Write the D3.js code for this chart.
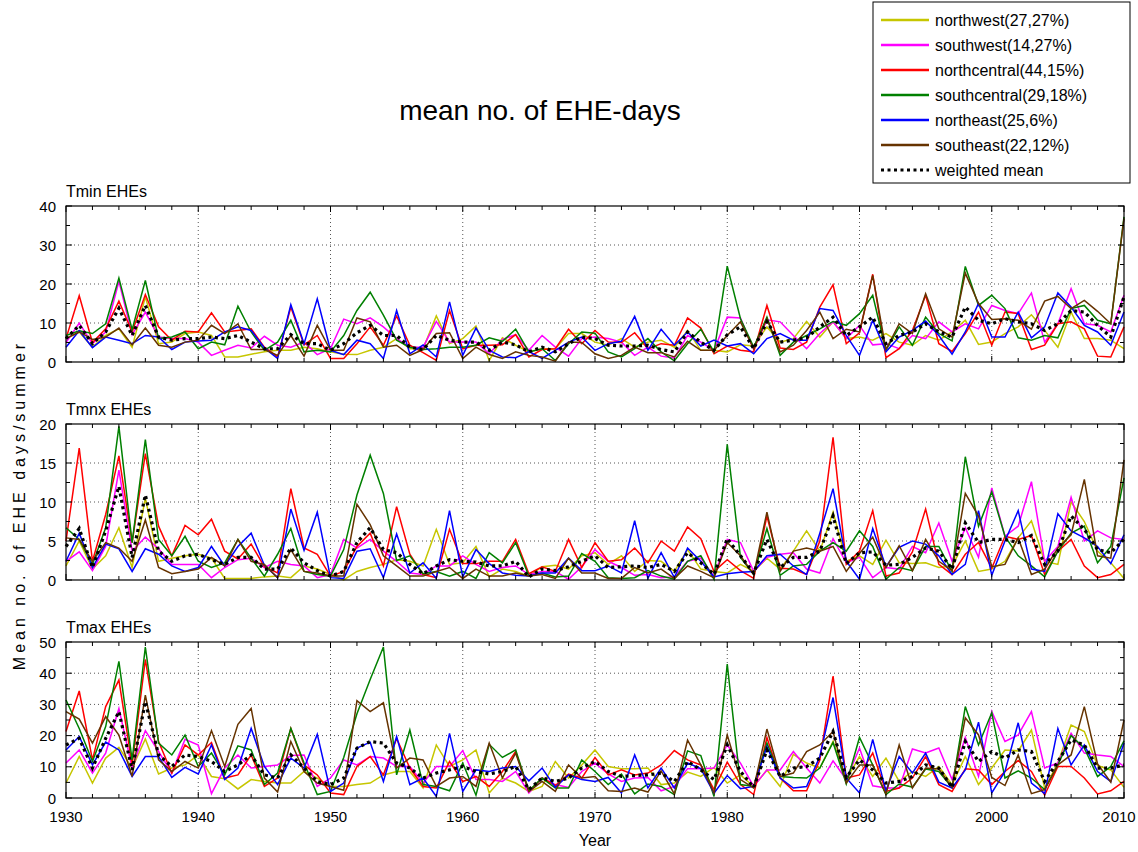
<!DOCTYPE html>
<html lang="en">
<head>
<meta charset="UTF-8">
<title>mean no. of EHE-days</title>
<script src="https://d3js.org/d3.v7.min.js"></script>
<style>
  body { margin: 0; background: #fff; }
  svg { display: block; font-family: "Liberation Sans", Arial, Helvetica, sans-serif; }
  .grid line { stroke: #555; stroke-dasharray: 1,3; }
</style>
</head>
<body>
<div id="chart"></div>
<script>
// ---- data (one value per summer, 1930-2010) ----
const years = d3.range(1930, 2011);

const seriesNames = ["northwest(27,27%)", "southwest(14,27%)", "northcentral(44,15%)",
  "southcentral(29,18%)", "northeast(25,6%)", "southeast(22,12%)", "weighted mean"];
const seriesColors = ["#c6c600", "#ff00ff", "#ff0000", "#008000", "#0000ff", "#663300", "#000"];

const panelTitles = ["Tmin EHEs", "Tmnx EHEs", "Tmax EHEs"];
const panelMax = [40, 20, 50];
const panelTicks = [[0, 10, 20, 30, 40], [0, 5, 10, 15, 20], [0, 10, 20, 30, 40, 50]];
const panelMinorStep = [5, 2.5, 5];
const xTicks = [1930, 1940, 1950, 1960, 1970, 1980, 1990, 2000, 2010];

// Tmin
const tminNW = [6, 7.7, 3.8, 6.8, 8.5, 3.8, 16.7, 4.7, 5.1, 7.3,
  7.7, 6.8, 1.3, 1.3, 2, 2.6, 3, 3, 3.8, 3.4,
  2.6, 2, 1.9, 3, 3.8, 6, 3.4, 3.4, 11.8, 4.7,
  6, 9.2, 0.4, 6.2, 4.3, 2.6, 3.4, 3.4, 7.3, 7.3,
  5.1, 4.3, 6, 3.8, 5.1, 5.6, 3.8, 8.1, 3, 3,
  2.6, 4.4, 4.1, 9, 5.1, 6, 10.4, 6.4, 10.3, 6,
  6.4, 5.6, 7.3, 5.1, 4.3, 6.8, 5.6, 7.7, 10.7, 4.5,
  5.1, 7.3, 9, 12.1, 8.1, 3.8, 12.8, 6, 6, 5.6, 3.4];
const tminSW = [5, 10, 4.7, 7.7, 20.7, 7, 12.8, 6.4, 6, 6,
  5.1, 1.7, 3, 4.3, 3.6, 6.6, 4.3, 3.8, 5.1, 1.9,
  3.4, 11, 9.8, 11.3, 9, 6, 3.8, 3.8, 10.4, 5.1,
  5.1, 5.1, 2.1, 5.8, 7, 3, 6.8, 3.8, 1.5, 6,
  6.4, 6, 5.1, 1.7, 3.8, 1.5, 1, 6.8, 5.1, 3,
  11.5, 11.3, 3.2, 10.8, 10.3, 6.8, 3.4, 7.3, 10.3, 6,
  9.4, 4.4, 4.7, 3.4, 6.8, 6, 10.3, 7.7, 9.8, 8.5,
  14.5, 13.2, 12.4, 17.7, 5.1, 9.8, 18.8, 9.8, 9.4, 7.7, 17.1];
const tminNC = [6, 17, 5, 8.5, 15.6, 7.7, 17.3, 9, 5.6, 7.9,
  7.7, 12.6, 7.7, 8.1, 8.5, 3.8, 1.3, 14.1, 4.4, 6.8,
  0.9, 0.9, 4.7, 9, 4.3, 11.8, 4.3, 2.4, 0.4, 13.2,
  3.4, 4.3, 4.3, 4.4, 7, 1.3, 3.2, 3.4, 8.4, 4.7,
  8.1, 5.1, 5, 7.5, 3.4, 4.7, 4.3, 11.3, 8.7, 2.1,
  4.1, 3, 2.6, 14.5, 3.6, 3.2, 5.1, 14.1, 19.8, 4.7,
  7.5, 22.5, 1.1, 3.4, 8.1, 17.1, 4.7, 2.7, 7.3, 12.8,
  4.3, 12.8, 12.4, 3.2, 4.3, 9.8, 10.3, 8.5, 1.5, 1.3, 9];
const tminSC = [6.8, 8, 7.3, 9.8, 21.5, 8.3, 20.9, 6, 6.4, 7.7,
  3.4, 5.1, 4.4, 14.3, 7.7, 3, 5.1, 10.7, 2.6, 3,
  2.6, 6.8, 13.2, 17.9, 12, 5.6, 3.8, 3.2, 3.4, 3.8,
  3.8, 4.3, 6.2, 5.3, 8.4, 2.6, 3.4, 0.4, 4.7, 7.7,
  7.4, 2.6, 1.3, 3.4, 6, 2.6, 0.3, 4.7, 8.4, 2.6,
  24.6, 11.1, 3.8, 11.5, 1.7, 5.1, 6.8, 8.5, 10.4, 9.4,
  12.4, 17.1, 3, 9, 4.3, 11.5, 7.3, 5.4, 24.5, 14.5,
  17.1, 13.7, 6.2, 5.6, 6.8, 6.2, 13.7, 14.5, 10.7, 9.8, 37.2];
const tminNE = [3.8, 8, 3.7, 6.4, 5.6, 4.7, 6.8, 6.4, 3.2, 5.1,
  5.4, 5.6, 7.7, 9, 8.1, 3.6, 0.9, 14.7, 4.7, 16.2,
  3, 1.9, 5.6, 4.7, 0.9, 13.2, 2.1, 4.4, 1.3, 15.4,
  1.7, 8.7, 3, 1.3, 1.1, 2.7, 0.9, 3, 5.1, 6.4,
  3, 4.7, 5.3, 11.7, 3, 8.4, 4.3, 7.7, 4.1, 5.6,
  4.1, 4.7, 2.1, 6, 7.3, 5.6, 5.6, 13.7, 13.2, 6.8,
  1.7, 10.7, 2.6, 6.4, 8.1, 10.5, 6.8, 2, 7.7, 15,
  6.4, 6.4, 12.8, 6.2, 9, 17.7, 14.1, 9.4, 7.7, 4.3, 12.8];
const tminSE = [6, 7.7, 5.8, 6.4, 8.7, 4.4, 8.7, 4.3, 3.8, 5.1,
  5.6, 9.4, 7.3, 9.8, 3.2, 3.2, 1.7, 6.8, 1.5, 9.4,
  3, 3, 11.3, 10.3, 3.8, 4.3, 1.7, 3.2, 7.3, 7.5,
  0.9, 3.8, 1.9, 0.9, 2.6, 1.7, 1.3, 0.2, 5.1, 5,
  2.1, 0.9, 1.7, 3.8, 2.4, 2.4, 1.3, 5.3, 3, 3,
  6.8, 10.3, 3.4, 11.1, 2.6, 4.3, 8.1, 12.8, 6, 8.4,
  7.7, 22.2, 3.2, 9.8, 7.3, 17.5, 8.5, 6.4, 22.8, 15,
  10.9, 11.1, 10.7, 8.4, 15.6, 16.8, 13.7, 15.8, 13, 9.8, 36.8];
const tminMean = [6, 9.4, 4.7, 7.7, 13.8, 6.8, 14.5, 6.4, 5.6, 6,
  6, 6.4, 6, 6.8, 5.1, 3.4, 3.4, 7, 4.7, 4.7,
  3, 4.7, 7.5, 9.4, 6.8, 6.8, 3.8, 3.2, 6.8, 5.6,
  5.1, 5.1, 3, 5.1, 4.4, 2.6, 3.8, 2.6, 4.7, 6.4,
  6, 4.3, 4.1, 4.1, 4.3, 3.2, 2.6, 7.7, 5.1, 3,
  7, 9, 3.4, 10.3, 5.1, 5.6, 6.2, 9, 11.5, 6.8,
  9, 11.5, 4.7, 6.8, 7.7, 9.8, 7.7, 6.4, 14.1, 10.7,
  9.8, 11.1, 10.3, 9.8, 8.1, 9.8, 13.2, 12.8, 9.4, 6.4, 16.7];

// Tmnx
const tmnxNW = [1.8, 5, 1.4, 3.1, 6.7, 1.6, 10.5, 2.4, 2.8, 3.1,
  3.3, 2.8, 0.2, 0.2, 0.2, 0.4, 0.5, 0.3, 1.8, 1.4,
  0.7, 0, 1.1, 1.6, 2, 2.6, 2.4, 1.8, 6.5, 2,
  2.2, 4.3, 0.4, 1.4, 1.1, 0.5, 1.7, 1.9, 1.4, 3.1,
  3.5, 2, 3.1, 1.1, 2.5, 2.4, 1.1, 3.9, 1.4, 1.1,
  0.9, 2, 1.1, 2.8, 1.4, 3.7, 6.3, 3.7, 8.7, 2.4,
  3.1, 2, 5.1, 2.2, 2.1, 2.2, 1.6, 1.8, 5, 1.1,
  1.4, 2.4, 5.4, 7.6, 2.4, 2, 10, 7.5, 3.7, 2.2, 0.2];
const tmnxSW = [2.4, 3.6, 1.2, 4.3, 14.1, 3.7, 5.5, 4, 2, 2,
  2, 0.3, 1.6, 2.6, 2.8, 1.6, 2.4, 2, 1.8, 0.3,
  0.7, 5.2, 4.1, 5.2, 3.7, 2.4, 0.9, 0.7, 1.8, 1.8,
  3.1, 2, 1.1, 1.6, 1.8, 0.7, 1.1, 1.1, 0.1, 1.7,
  3.9, 2.4, 1.6, 0.6, 0.7, 0.3, 0.4, 2.4, 2.8, 0.5,
  5.2, 4.8, 1.1, 2.9, 3.3, 3.5, 1.4, 0.9, 5.3, 2.2,
  2.9, 0.3, 1.6, 1.4, 4.3, 3.5, 7.3, 2.4, 6.7, 2.9,
  11.8, 5.6, 6.9, 12.6, 2.4, 4.3, 10.6, 5, 6.3, 5.4, 5.2];
const tmnxNC = [5, 16.9, 2.4, 8.4, 15.9, 4.8, 16.2, 6.9, 3.1, 7,
  5.8, 7.8, 3.7, 2.7, 4.6, 1.7, 0.9, 11.7, 4.1, 3.3,
  0.5, 1.1, 4.3, 6, 1.8, 9.4, 3.3, 0.7, 0.3, 6.5,
  2.1, 2.1, 2.4, 2.4, 5.2, 0.8, 1.7, 1.1, 5.2, 1.6,
  4.8, 2.4, 2.6, 4.1, 2.2, 5, 3.7, 6.8, 5.3, 1.1,
  2.6, 1.2, 0.2, 8.2, 1.5, 1.4, 0.7, 5, 18.3, 2,
  3.7, 8.9, 0.5, 0.9, 3.6, 9.1, 2, 0.7, 3.3, 4.8,
  1.5, 5.6, 5.2, 5.7, 0.7, 3.7, 5.2, 1.8, 0.3, 0.7, 2];
const tmnxSC = [6.7, 5.2, 2, 6.7, 19.7, 4.8, 18, 5.2, 3.1, 5.6,
  2.4, 1.6, 2.2, 5.2, 2.8, 0.5, 3.3, 6.6, 1.1, 0.7,
  0.5, 3.9, 10.9, 16, 11.1, 2.5, 3.1, 0.8, 1.1, 0.5,
  1.1, 0.2, 3.5, 2.2, 4.8, 0.5, 0.9, 0.4, 0.5, 3.4,
  2.4, 0.3, 0.2, 0.3, 1.2, 0.5, 0.1, 2.4, 3.1, 0.1,
  17.4, 2.9, 0.7, 6.6, 0.6, 1.8, 2, 3.7, 4.8, 3.7,
  6.3, 4.3, 0.1, 1.6, 1.2, 4.3, 4.3, 1.1, 15.8, 6.9,
  11.3, 5.6, 3.1, 1.8, 0.4, 3.7, 6, 6.9, 2.2, 4.3, 13.1];
const tmnxNE = [2.4, 6, 1.6, 4.6, 4, 1.1, 4, 3.3, 1.8, 1.1,
  1.6, 4.3, 1.8, 4.3, 6, 1.9, 0.3, 9.1, 3.8, 8.7,
  0.3, 0.2, 3.7, 4, 0.3, 5.9, 0.9, 2.2, 0.2, 8.9,
  0.4, 3.9, 2.1, 0.9, 0.6, 0.5, 0.9, 0.9, 2.8, 1.2,
  1.2, 1.8, 0.9, 7.6, 0.2, 3.5, 0.3, 4.1, 2.4, 0.4,
  0.8, 1, 1.1, 3.1, 3.3, 1.8, 0.7, 6, 11.7, 2.4,
  0.1, 6.6, 1.7, 4.2, 5, 4.6, 3.1, 0.7, 2, 8.9,
  0.6, 5, 8.9, 1.4, 1.1, 8.5, 6.3, 5.4, 4.3, 2.1, 5.8];
const tmnxSE = [5.4, 5.2, 2.4, 4.8, 4.1, 2.4, 7.7, 1.6, 0.8, 1.1,
  1.4, 2.9, 1.8, 5.2, 2.4, 2, 0.3, 3.9, 1.1, 0.9,
  0.5, 0.5, 9.7, 7.1, 3.1, 1.8, 0.5, 0.5, 1.1, 1.6,
  0.2, 1.4, 0.5, 0.5, 0.9, 0.5, 0.7, 0.2, 2.8, 0.9,
  0.9, 0.2, 0.2, 1.6, 0.9, 1.4, 0.2, 1.8, 1.1, 0.3,
  4.8, 3.1, 0.7, 8.7, 1.1, 3.7, 4.1, 3.7, 4.3, 1.1,
  3.4, 5.5, 1.6, 4.4, 1.2, 5.2, 2.4, 1.2, 11.1, 8.2,
  1.7, 2, 5.4, 0.7, 1.4, 4.1, 5.8, 12.9, 3.1, 2.8, 15.4];
const tmnxMean = [4.3, 6.6, 1.6, 6.3, 12, 2.9, 10.9, 3.7, 2.4, 3.1,
  3.3, 2.6, 2, 2.9, 2.9, 1.4, 1.4, 4.1, 2.2, 1.2,
  0.5, 1.1, 4.8, 6.7, 3.9, 3.5, 2, 0.8, 1.8, 2.6,
  2.4, 2.3, 1.8, 1.8, 2.4, 0.4, 1.4, 1.2, 1.7, 2.4,
  3.1, 1.6, 1.7, 1.8, 1.6, 2, 1.1, 3.5, 2.2, 0.7,
  5.3, 3.1, 0.9, 5.2, 1.6, 2.9, 2.9, 3.7, 8.2, 2.1,
  3.5, 3.6, 1.9, 2, 2.9, 4.1, 3.7, 1.4, 7.3, 4.8,
  5.2, 5.2, 4.8, 5.7, 2, 3.7, 8.2, 6.5, 3.9, 3.5, 5.2];

// Tmax
const tmaxNW = [4.8, 13.3, 4.8, 12.8, 16.2, 9.6, 18.9, 7.7, 9.6, 10.6,
  13.8, 6.9, 6.2, 2.9, 5.9, 5.3, 4.8, 4.8, 8.5, 6.4,
  3.7, 3.7, 4.3, 4.8, 7.4, 8.5, 8.5, 3.2, 17, 10.1,
  12.2, 15.4, 1.6, 6.4, 4.8, 2.1, 3.7, 11.7, 6.4, 10.6,
  15.4, 10.1, 9.4, 9.4, 9.6, 4.3, 4.8, 8.3, 6.9, 9.8,
  4.8, 7.4, 3.7, 9, 3.7, 14, 11.2, 9.6, 18.1, 5.9,
  13.3, 6.9, 12.8, 5.3, 8.5, 6.9, 10.1, 4.3, 13.3, 4.3,
  9.6, 15.4, 15.1, 21.8, 3.2, 11.2, 23.4, 21.3, 10.4, 9, 3.4];
const tmaxSW = [11.2, 15.4, 8, 14.4, 28.7, 9.6, 21.6, 14.9, 8, 18.8,
  17, 1.4, 9.6, 13.8, 9.6, 10.1, 10.6, 13.6, 13.8, 3.7,
  6.4, 12.2, 10.6, 13.3, 12.8, 10.1, 10.1, 4.8, 10.1, 10.1,
  15.2, 5.9, 5.9, 5.3, 8.5, 1.6, 6.4, 4.3, 3.4, 8.5,
  11.2, 7.7, 5.3, 6.4, 6.6, 2.3, 3.7, 9.4, 9.4, 9.6,
  17, 11.2, 3.7, 9, 9, 14.9, 9.6, 4.8, 11.9, 5.9,
  16, 3.9, 3.2, 3.2, 15.7, 14.4, 16, 5.9, 19.4, 6.9,
  27.7, 18.1, 20.2, 27.7, 9.6, 11.2, 20.7, 14.4, 13.8, 13.3, 10.1];
const tmaxNC = [21.3, 34.3, 12.2, 29.3, 37.8, 10.6, 44.4, 18.1, 8, 17,
  13.8, 17.8, 6.4, 7.4, 13.8, 3.7, 6.4, 22.3, 10.6, 7.4,
  1.6, 1.1, 10.1, 13.3, 7.4, 19.1, 9.6, 3.7, 3.2, 11.7,
  5.3, 6.9, 3.7, 8.5, 14.9, 2.1, 6.4, 4, 7.7, 6.4,
  13, 7.4, 9, 7.4, 8, 10.6, 15.2, 12.2, 10.6, 2.7,
  11.5, 4.3, 1.1, 19.4, 6.4, 2.3, 2.3, 12.2, 39.1, 6.4,
  7.4, 14.4, 2.1, 3.2, 6.4, 13.3, 4.3, 2.1, 9.4, 9,
  4.3, 8.5, 12, 8.5, 0.9, 10.1, 10.1, 6.4, 1.3, 2.3, 5.3];
const tmaxSC = [31.4, 22.3, 11.7, 22.9, 43.8, 12.2, 48.4, 17.6, 13.8, 20.2,
  10.1, 14.4, 7.4, 16.7, 15.4, 4.3, 8, 22.3, 11.2, 1.1,
  2.1, 13, 27, 38, 48.4, 7.4, 21.8, 4.3, 3.7, 2.3,
  11.2, 0.9, 17.2, 13, 15.4, 2.3, 6.4, 3.2, 3.2, 12.2,
  8.5, 4.3, 7.7, 1.3, 4.5, 3.7, 1.1, 15.1, 13.6, 0.5,
  42.9, 4.3, 3.7, 17.6, 6.9, 6.6, 6.4, 9.6, 17.8, 4.5,
  19.4, 10.6, 1.1, 4.5, 3.5, 9.3, 8.5, 3.4, 29.3, 17,
  27.3, 6.4, 8.7, 6.4, 2.7, 10.6, 20, 16, 6.9, 10.1, 18.3];
const tmaxNE = [15.4, 19.7, 10.6, 17.9, 15.4, 6.9, 13.3, 13.3, 6.6, 9.8,
  7.7, 17, 5.9, 9.6, 22.3, 10.1, 4.3, 12.8, 9.6, 20.4,
  2.1, 4.8, 16, 17.9, 5.3, 19.7, 4.3, 6.4, 0.5, 20.7,
  2.1, 9, 8.5, 9.6, 10.1, 5.5, 9.6, 3.4, 7.4, 5.9,
  5.3, 6.6, 1.6, 13.8, 3.2, 9.6, 3.2, 11.2, 9.4, 1.6,
  7.2, 3, 3.7, 16.5, 6.4, 3.2, 3.7, 13.3, 32.2, 6.4,
  1.6, 18.8, 2.3, 13.3, 8, 14.4, 5.1, 3.2, 9, 24.3,
  1.6, 8.5, 24.1, 4.8, 1.4, 22.3, 10.6, 17, 8.5, 5.3, 17.6];
const tmaxSE = [27.7, 25.3, 17.6, 26.1, 20.2, 6.9, 33, 12.2, 8.5, 11.7,
  9.6, 21.6, 10.1, 23.6, 28.7, 6.4, 1.9, 18.1, 8.5, 4.8,
  3.7, 2.5, 31.2, 27.7, 30.5, 9.6, 12.8, 12.2, 3.7, 6.4,
  6.9, 3.7, 17.6, 6.4, 14.4, 2.1, 5.3, 2.1, 10.6, 6.4,
  6.9, 2.3, 2.1, 3.2, 1.9, 8.7, 1.3, 18.6, 10.6, 1.6,
  20.2, 5.9, 3.2, 22.1, 6.9, 8, 14.9, 17, 21.3, 4.8,
  10.6, 10.6, 1.3, 17, 3.2, 9.6, 9.3, 3.4, 25.7, 20.2,
  6.6, 4, 13.8, 1.4, 2.7, 10.6, 13.8, 29.3, 10.9, 5.1, 25];
const tmaxMean = [17, 19.1, 9.6, 19.1, 27.7, 9, 30.9, 13.8, 10.1, 13.8,
  13.3, 11.7, 8.5, 10.6, 13.8, 7.4, 6.4, 13.8, 9.6, 5.3,
  4.3, 6.4, 16, 18.1, 17.6, 11.2, 9.6, 6.4, 8, 9,
  10.1, 8.5, 7.7, 8.5, 10.1, 2.7, 6.4, 5.3, 6.4, 9.6,
  11.7, 8.5, 6.9, 7.2, 7.4, 8, 5.3, 11.7, 9, 5.9,
  17, 8.5, 3.4, 15.4, 6.9, 9.6, 10.1, 12.8, 21.3, 6.6,
  12.2, 9, 4.8, 5.3, 6.9, 10.6, 9.6, 3.4, 18.1, 11.7,
  14.9, 12.8, 15.4, 14.9, 5.3, 11.7, 18.6, 17, 9.6, 9.6, 10.6];

const panelSeries = [
  [tminNW, tminSW, tminNC, tminSC, tminNE, tminSE, tminMean],
  [tmnxNW, tmnxSW, tmnxNC, tmnxSC, tmnxNE, tmnxSE, tmnxMean],
  [tmaxNW, tmaxSW, tmaxNC, tmaxSC, tmaxNE, tmaxSE, tmaxMean]
];

// ---- layout ----
const W = 1138, H = 852;
const plotLeft = 66, plotRight = 1124;
const panelTop = [206, 424, 642];
const panelH = 156;

const svg = d3.select("#chart").append("svg")
  .attr("width", W).attr("height", H);

const x = d3.scaleLinear().domain([1930, 2010]).range([plotLeft, plotRight]);

panelSeries.forEach((series, p) => {
  const top = panelTop[p];
  const y = d3.scaleLinear().domain([0, panelMax[p]]).range([top + panelH, top]);
  const g = svg.append("g");

  // grid
  const grid = g.append("g").attr("class", "grid");
  grid.selectAll(".gx").data(xTicks.slice(1, -1)).enter().append("line")
    .attr("x1", d => x(d)).attr("x2", d => x(d))
    .attr("y1", top).attr("y2", top + panelH);
  grid.selectAll(".gy").data(panelTicks[p].slice(1, -1)).enter().append("line")
    .attr("x1", plotLeft).attr("x2", plotRight)
    .attr("y1", d => y(d)).attr("y2", d => y(d));

  // lines
  const line = d3.line().x((d, i) => x(years[i])).y(d => y(d));
  series.forEach((vals, s) => {
    const isMean = s === series.length - 1;
    g.append("path")
      .datum(vals)
      .attr("d", line)
      .attr("fill", "none")
      .attr("stroke", seriesColors[s])
      .attr("stroke-width", isMean ? 3.2 : 1.5)
      .attr("stroke-dasharray", isMean ? "3,3.5" : null)
      .attr("stroke-linejoin", "miter");
  });

  // ticks (inward, both sides)
  const minorX = d3.range(1930, 2011, 2);
  const minorY = d3.range(0, panelMax[p] + 0.01, panelMinorStep[p]);
  const ticks = g.append("g").attr("stroke", "#000").attr("stroke-width", 1);
  minorX.forEach(v => {
    const len = v % 10 === 0 ? 6 : 4;
    ticks.append("line").attr("x1", x(v)).attr("x2", x(v)).attr("y1", top + panelH).attr("y2", top + panelH - len);
    ticks.append("line").attr("x1", x(v)).attr("x2", x(v)).attr("y1", top).attr("y2", top + len);
  });
  minorY.forEach(v => {
    const len = panelTicks[p].includes(v) ? 6 : 4;
    ticks.append("line").attr("x1", plotLeft).attr("x2", plotLeft + len).attr("y1", y(v)).attr("y2", y(v));
    ticks.append("line").attr("x1", plotRight).attr("x2", plotRight - len).attr("y1", y(v)).attr("y2", y(v));
  });

  // frame
  g.append("rect")
    .attr("x", plotLeft).attr("y", top)
    .attr("width", plotRight - plotLeft).attr("height", panelH)
    .attr("fill", "none").attr("stroke", "#000").attr("stroke-width", 1.2);

  // y tick labels
  g.selectAll(".yl").data(panelTicks[p]).enter().append("text")
    .attr("x", plotLeft - 10).attr("y", d => y(d))
    .attr("text-anchor", "end").attr("dominant-baseline", "central")
    .attr("font-size", 15).text(d => d);

  // panel title
  g.append("text")
    .attr("x", plotLeft).attr("y", top - 9)
    .attr("font-size", 16).text(panelTitles[p]);

  // x tick labels only on bottom panel (last one kept inside the page)
  if (p === panelSeries.length - 1) {
    g.selectAll(".xl").data(xTicks).enter().append("text")
      .attr("x", d => Math.min(x(d), W - 19)).attr("y", top + panelH + 24)
      .attr("text-anchor", "middle").attr("font-size", 15).text(d => d);
  }
});

// axis titles
svg.append("text")
  .attr("x", (plotLeft + plotRight) / 2).attr("y", 846)
  .attr("text-anchor", "middle").attr("font-size", 16).text("Year");

svg.append("text")
  .attr("transform", "translate(25,505) rotate(-90)")
  .attr("text-anchor", "middle").attr("font-size", 16)
  .attr("letter-spacing", 4)
  .text("Mean no. of EHE days/summer");

// main title
svg.append("text")
  .attr("x", 540).attr("y", 120)
  .attr("text-anchor", "middle").attr("font-size", 28)
  .text("mean no. of EHE-days");

// legend
const lg = svg.append("g");
lg.append("rect")
  .attr("x", 873).attr("y", 2).attr("width", 257).attr("height", 181)
  .attr("fill", "#fff").attr("stroke", "#000").attr("stroke-width", 1);
seriesNames.forEach((name, i) => {
  const ly = 20 + i * 25;
  const isMean = i === seriesNames.length - 1;
  lg.append("line")
    .attr("x1", 881).attr("x2", 929).attr("y1", ly).attr("y2", ly)
    .attr("stroke", seriesColors[i])
    .attr("stroke-width", isMean ? 3.2 : 2.5)
    .attr("stroke-dasharray", isMean ? "3,3.5" : null);
  lg.append("text")
    .attr("x", 935).attr("y", ly)
    .attr("dominant-baseline", "central").attr("font-size", 16)
    .text(name);
});
</script>
</body>
</html>
